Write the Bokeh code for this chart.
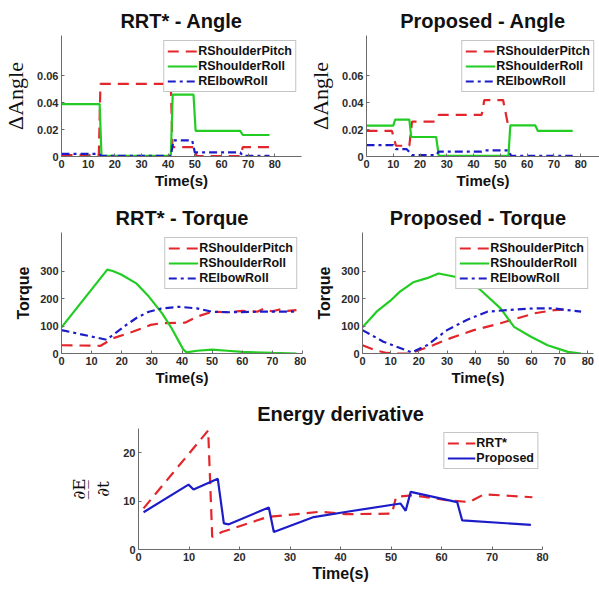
from bokeh.plotting import figure
from bokeh.layouts import column, row
from bokeh.models import Range1d, FixedTicker, CustomJSTickFormatter
from bokeh.embed import file_html
from bokeh.resources import INLINE

# ---------------- data ----------------
x_ticks = [0, 10, 20, 30, 40, 50, 60, 70, 80]
angle_y_ticks = [0, 0.02, 0.04, 0.06]
torque_y_ticks = [0, 100, 200, 300]
energy_y_ticks = [0, 10, 20]
joint_names = ["RShoulderPitch", "RShoulderRoll", "RElbowRoll"]
energy_names = ["RRT*", "Proposed"]

# RRT* - Angle
rrt_ang_pitch_t = [0, 14, 14.6, 41, 41.6, 50, 50.6, 67, 68, 78]
rrt_ang_pitch = [0.001, 0.001, 0.054, 0.054, 0.007, 0.007, 0.0003, 0.0003, 0.007, 0.007]
rrt_ang_roll_t = [0, 14.3, 15, 41, 41.7, 49.5, 50.3, 67, 68, 78]
rrt_ang_roll = [0.039, 0.039, 0.0005, 0.0005, 0.046, 0.046, 0.019, 0.019, 0.016, 0.016]
rrt_ang_elbow_t = [0, 14, 15, 41, 42, 49, 50, 67, 68, 78]
rrt_ang_elbow = [0.002, 0.002, 0.0005, 0.0005, 0.012, 0.012, 0.003, 0.003, 0.0005, 0.0005]

# Proposed - Angle
pro_ang_pitch_t = [0, 9.5, 11, 16, 17, 25.5, 27, 43, 44, 51, 53]
pro_ang_pitch = [0.019, 0.019, 0.008, 0.008, 0.026, 0.026, 0.031, 0.031, 0.042, 0.042, 0.022]
pro_ang_roll_t = [0, 10, 10.7, 16, 16.7, 26, 27, 53, 53.7, 63, 64, 77]
pro_ang_roll = [0.023, 0.023, 0.0275, 0.0275, 0.0145, 0.0145, 0.0005, 0.0005, 0.0232, 0.0232, 0.019, 0.019]
pro_ang_elbow_t = [0, 10, 11, 15, 17, 26, 27, 43, 44, 53, 54, 77]
pro_ang_elbow = [0.0085, 0.0085, 0.0055, 0.0055, 0.001, 0.001, 0.0037, 0.0037, 0.0045, 0.0045, 0.0005, 0.0005]

# RRT* - Torque
rrt_tq_pitch_t = [0, 13, 17, 23.6, 29.6, 33, 41, 45, 50, 55, 60, 65, 67, 70, 73, 75, 78]
rrt_tq_pitch = [30, 28, 55, 79, 104, 110, 112, 134, 152, 150, 155, 152, 162, 153, 162, 155, 158]
rrt_tq_roll_t = [0, 15.2, 17, 19.8, 24.7, 29, 33.4, 36.6, 40.4, 41.5, 45, 50, 55, 60, 70, 78]
rrt_tq_roll = [95, 305, 300, 287, 256, 207, 146, 91, 15, 4, 10, 14, 10, 6, 2, 0]
rrt_tq_elbow_t = [0, 15, 18, 21.4, 25, 29, 33, 38.8, 45, 50, 56, 65, 78]
rrt_tq_elbow = [85, 50, 75, 103, 130, 152, 163, 170, 164, 152, 150, 152, 152]

# Proposed - Torque
pro_tq_pitch_t = [0, 4.4, 8.6, 12, 17, 25, 31, 39.5, 49, 55, 61, 68, 72]
pro_tq_pitch = [30, 12, 2, 0, 0, 30, 55, 85, 110, 128, 146, 158, 160]
pro_tq_roll_t = [0, 5, 9.8, 13.3, 18, 22.9, 27, 32.4, 37, 41.9, 49, 53.8, 59.8, 65.7, 72.9, 77.6]
pro_tq_roll = [95, 152, 191, 225, 259, 274, 291, 280, 268, 231, 164, 97, 61, 30, 6, 0]
pro_tq_elbow_t = [0, 7.4, 17.5, 22.9, 30, 37, 44.3, 51.4, 61, 68, 77.6]
pro_tq_elbow = [85, 43, 4, 30, 85, 122, 152, 158, 164, 164, 152]

# Energy derivative
en_rrt_t = [1, 13.8, 14.6, 16.5, 25.5, 36, 41, 50.2, 51, 54.5, 61, 65.5, 68.4, 78]
en_rrt = [8.5, 24.6, 2.6, 3.6, 6.7, 7.8, 7.3, 7.4, 10.9, 11.2, 10.2, 9.8, 11.4, 10.8]
en_pro_t = [1, 9.9, 10.9, 15.7, 16.9, 17.9, 25.8, 26.8, 34.7, 41.3, 51.9, 52.9, 53.9, 63.1, 64.1, 77.7]
en_pro = [7.7, 13.4, 12.4, 14.6, 5.4, 5.2, 8.7, 3.6, 6.7, 7.8, 9.5, 8.0, 11.9, 9.8, 6.0, 5.1]

# ---------------- style ----------------
SANS = "Liberation Sans"
RED, GREEN, BLUE = "#e3262b", "#22cc22", "#1c1cc8"
AX = "#6b6b6b"
LBL = "#2b2b2b"
LW = 2.2
DASH_RED = "11 7"
DASH_BLUE = "8 4 3 4"


def base_fig(title, fw, fh, xmax, ymax, xticks, yticks, borders):
    l, r, t, b = borders
    p = figure(title=title, frame_width=fw, frame_height=fh,
               x_range=Range1d(0, xmax), y_range=Range1d(0, ymax),
               min_border_left=l, min_border_right=r,
               min_border_top=t, min_border_bottom=b,
               output_backend="svg", toolbar_location=None)
    p.outline_line_color = None
    p.grid.visible = False
    p.title.text_font = SANS
    p.title.text_font_size = "20px"
    p.title.text_font_style = "bold"
    p.title.text_color = "#111111"
    p.title.align = "center"
    p.title.standoff = 8
    for ax in (p.xaxis[0], p.yaxis[0]):
        ax.axis_line_color = AX
        ax.major_tick_line_color = AX
        ax.major_tick_in = 3
        ax.major_tick_out = 0
        ax.minor_tick_line_color = None
        ax.major_label_text_font = SANS
        ax.major_label_text_font_size = "11px"
        ax.major_label_text_font_style = "bold"
        ax.major_label_text_color = LBL
        ax.major_label_standoff = 3
    p.xaxis.ticker = FixedTicker(ticks=xticks)
    p.yaxis.ticker = FixedTicker(ticks=yticks)
    p.xaxis.axis_label = "Time(s)"
    p.xaxis.axis_label_text_font = SANS
    p.xaxis.axis_label_text_font_size = "15px"
    p.xaxis.axis_label_text_font_style = "bold"
    p.xaxis.axis_label_text_color = "#111111"
    p.xaxis.axis_label_standoff = 1
    return p


def style_legend(p, glyph_w=30):
    lg = p.legend[0]
    lg.location = "top_right"
    lg.margin = 5
    lg.padding = 3
    lg.spacing = 1
    lg.label_height = 14
    lg.glyph_height = 14
    lg.glyph_width = glyph_w
    lg.label_standoff = 1
    lg.label_text_font = SANS
    lg.label_text_font_size = "12.5px"
    lg.label_text_font_style = "bold"
    lg.label_text_color = "#111111"
    lg.border_line_color = "#8a8a8a"
    lg.border_line_width = 1
    lg.background_fill_color = "white"
    lg.background_fill_alpha = 1


def joint_lines(p, pt, pv, rt, rv, et, ev):
    p.line(pt, pv, color=RED, line_width=LW, line_dash=DASH_RED, legend_label=joint_names[0])
    p.line(rt, rv, color=GREEN, line_width=LW, legend_label=joint_names[1])
    p.line(et, ev, color=BLUE, line_width=LW, line_dash=DASH_BLUE, legend_label=joint_names[2])
    style_legend(p)


def angle_label(p):
    p.yaxis.axis_label = "\u0394Angle"
    p.yaxis.axis_label_text_font = "Liberation Serif"
    p.yaxis.axis_label_text_font_size = "22px"
    p.yaxis.axis_label_text_font_style = "normal"
    p.yaxis.axis_label_text_color = "#111111"
    p.yaxis.axis_label_standoff = 6
    p.yaxis.formatter = CustomJSTickFormatter(code="return tick === 0 ? '0' : tick.toFixed(2);")


def torque_label(p):
    p.yaxis.axis_label = "Torque"
    p.yaxis.axis_label_text_font = SANS
    p.yaxis.axis_label_text_font_size = "16px"
    p.yaxis.axis_label_text_font_style = "bold"
    p.yaxis.axis_label_text_color = "#111111"
    p.yaxis.axis_label_standoff = 5


# Row 1
p1 = base_fig("RRT* - Angle", 240, 121, 90, 0.09, x_ticks, angle_y_ticks, (61, 4, 35, 39))
joint_lines(p1, rrt_ang_pitch_t, rrt_ang_pitch, rrt_ang_roll_t, rrt_ang_roll, rrt_ang_elbow_t, rrt_ang_elbow)
angle_label(p1)

p2 = base_fig("Proposed - Angle", 233, 121, 87, 0.09, x_ticks, angle_y_ticks, (58, 1, 35, 39))
joint_lines(p2, pro_ang_pitch_t, pro_ang_pitch, pro_ang_roll_t, pro_ang_roll, pro_ang_elbow_t, pro_ang_elbow)
angle_label(p2)

# Row 2
p3 = base_fig("RRT* - Torque", 241, 121, 80, 440, x_ticks, torque_y_ticks, (61, 4, 37, 40))
joint_lines(p3, rrt_tq_pitch_t, rrt_tq_pitch, rrt_tq_roll_t, rrt_tq_roll, rrt_tq_elbow_t, rrt_tq_elbow)
torque_label(p3)

p4 = base_fig("Proposed - Torque", 231, 121, 82, 440, x_ticks, torque_y_ticks, (56, 3, 37, 40))
joint_lines(p4, pro_tq_pitch_t, pro_tq_pitch, pro_tq_roll_t, pro_tq_roll, pro_tq_elbow_t, pro_tq_elbow)
torque_label(p4)

# Row 3
p5 = base_fig("Energy derivative", 404, 121, 80, 25, x_ticks, energy_y_ticks, (138, 55, 35, 39))
p5.xaxis.axis_label_text_font_size = "16px"
p5.line(en_rrt_t, en_rrt, color=RED, line_width=LW, line_dash=DASH_RED, legend_label=energy_names[0])
p5.line(en_pro_t, en_pro, color=BLUE, line_width=LW, legend_label=energy_names[1])
style_legend(p5, glyph_w=28)
p5.legend[0].margin = 4
p5.yaxis.axis_label = "\u2202\u0332E\u0332\n\u2202t"
p5.yaxis.axis_label_text_font = "DejaVu Serif"
p5.yaxis.axis_label_text_font_size = "17px"
p5.yaxis.axis_label_text_font_style = "normal"
p5.yaxis.axis_label_text_color = "#111111"
p5.yaxis.axis_label_standoff = 7

layout = column(row(p1, p2), row(p3, p4), p5)

with open("out.html", "w") as f:
    f.write(file_html(layout, INLINE))
